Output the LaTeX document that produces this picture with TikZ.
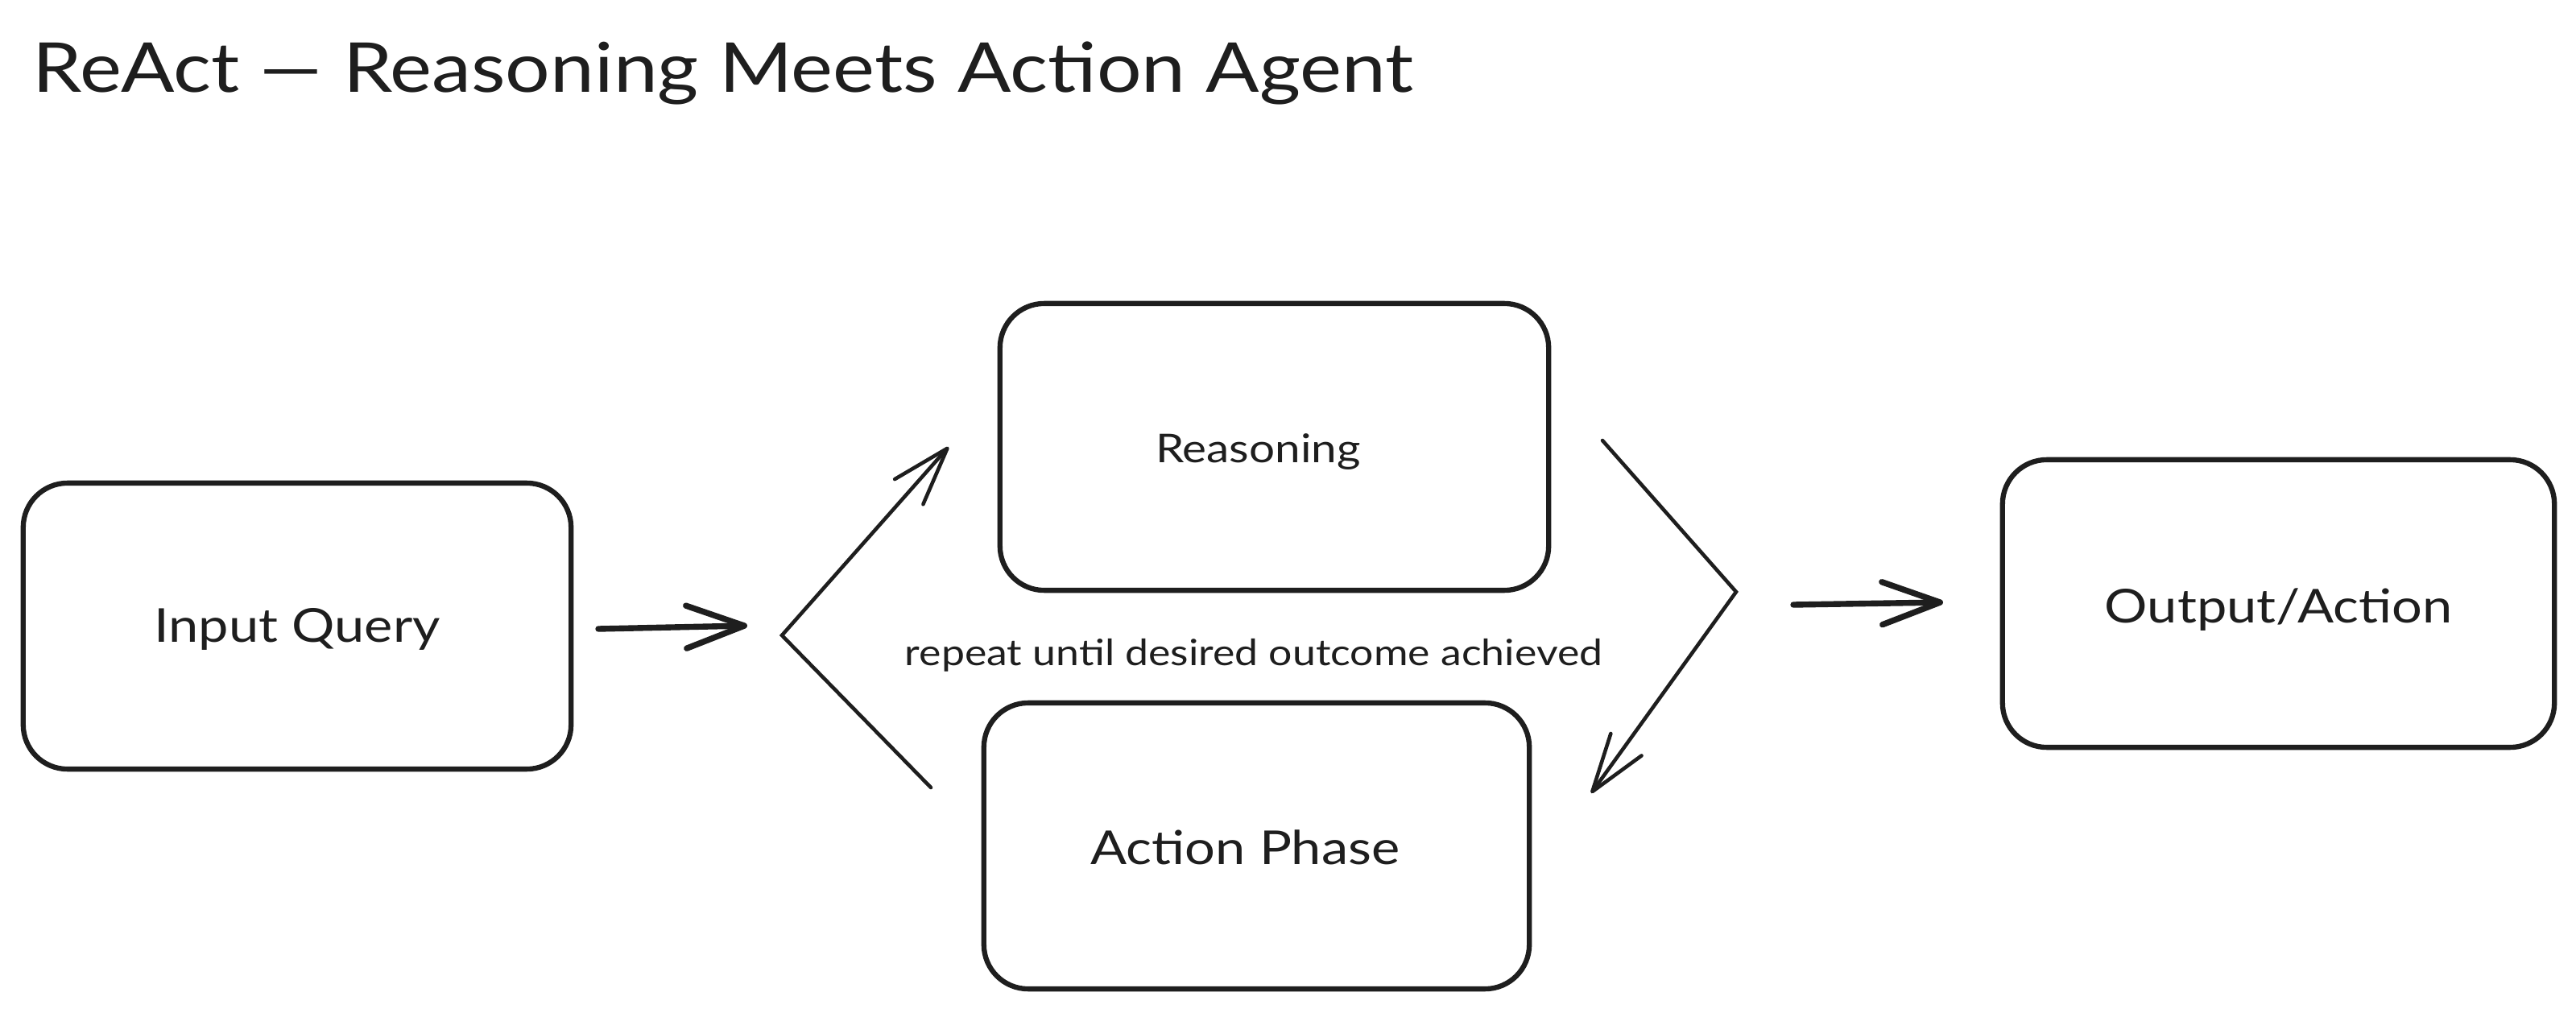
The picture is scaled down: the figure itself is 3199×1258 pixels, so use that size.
\documentclass[tikz,border=0pt]{standalone}
\usepackage{fontspec}
\newfontfamily\handfont{Lato}[FakeStretch=1.15]
\usetikzlibrary{arrows.meta}
\definecolor{ink}{HTML}{1E1E1E}
\begin{document}
\begin{tikzpicture}[x=0.01cm,y=-0.01cm,
  box/.style={draw=ink, line width=1.8pt, rounded corners=0.55cm, inner sep=0pt},
  bigarrow/.style={draw=ink, line width=2.1pt, line cap=round,
    -{Straight Barb[length=0.72cm,width=0.53cm,round]}},
  loopline/.style={draw=ink, line width=1.3pt, line cap=round, line join=miter},
  looparrow/.style={loopline, -{Straight Barb[length=0.72cm,width=0.47cm,round]}},
  lbl/.style={text=ink, inner sep=0pt, font=\handfont\fontsize{16.5}{20}\selectfont}
]
\fill[white] (0,0) rectangle (3199,1258);
\useasboundingbox (0,0) rectangle (3199,1258);

% title
\node[lbl, anchor=base west, font=\handfont\fontsize{24.3}{30}\selectfont] (title) at (40,115)
  {ReAct — Reasoning Meets Action Agent};

% boxes
\node[box, minimum width=6.80cm, minimum height=3.55cm] (iq) at (369,777.5) {};
\node[box, minimum width=6.81cm, minimum height=3.56cm] (rs) at (1582.5,555) {};
\node[box, minimum width=6.77cm, minimum height=3.55cm] (ap) at (1560.5,1050.5) {};
\node[box, minimum width=6.85cm, minimum height=3.57cm] (oa) at (2829.5,749.5) {};

% box labels
\node[lbl] (iqt) at ([yshift=-0.04cm]iq.center) {Input Query};
\node[lbl, font=\handfont\fontsize{14}{17}\selectfont] (rst) at ([xshift=-0.2cm,yshift=-0.06cm]rs.center) {Reasoning};
\node[lbl] (apt) at ([xshift=-0.14cm,yshift=-0.02cm]ap.center) {Action Phase};
\node[lbl] (oat) at ([yshift=-0.08cm]oa.center) {Output/Action};

% loop label
\node[lbl, anchor=base, font=\handfont\fontsize{12.8}{15}\selectfont] (rep) at (1557,826)
  {repeat until desired outcome achieved};

% connector points
\coordinate (a1s) at (743,781);
\coordinate (a1e) at (928,777);
\coordinate (lb) at (1156,978);
\coordinate (lv) at (971,789);
\coordinate (lt) at (1178,555);
\coordinate (rs0) at (1990,547);
\coordinate (rv) at (2156,735);
\coordinate (rt) at (1976,985);
\coordinate (a2s) at (2227,751);
\coordinate (a2e) at (2413,748);

% connectors
\draw[bigarrow] (a1s) -- (a1e);
\draw[looparrow] (lb) -- (lv) -- (lt);
\draw[looparrow] (rs0) -- (rv) -- (rt);
\draw[bigarrow] (a2s) -- (a2e);
\end{tikzpicture}
\end{document}
